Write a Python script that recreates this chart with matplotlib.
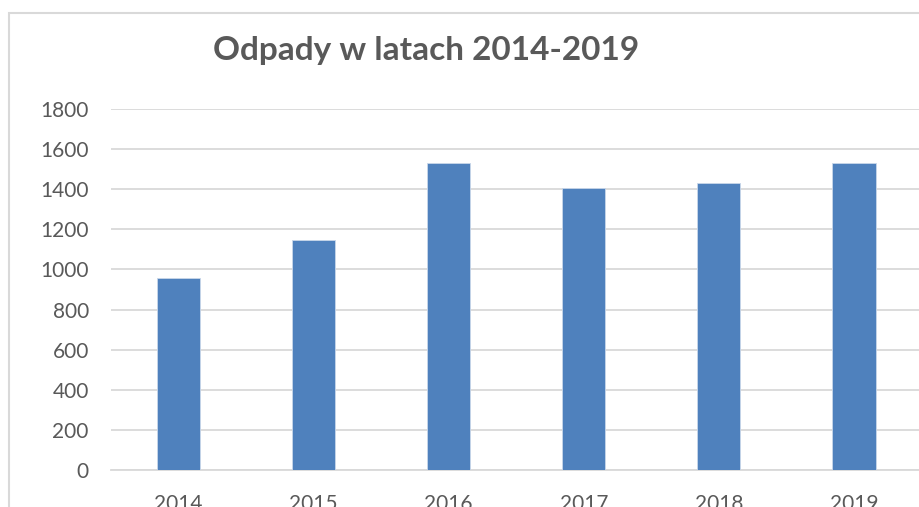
import matplotlib.pyplot as plt
from matplotlib.patches import Rectangle

years = ["2014", "2015", "2016", "2017", "2018", "2019"]
waste = [958, 1147, 1529, 1405, 1431, 1531]
yticks = [0, 200, 400, 600, 800, 1000, 1200, 1400, 1600, 1800]

W, H = 919, 507
fig = plt.figure(figsize=(W / 100, H / 100), dpi=100)
plt.rcParams['font.family'] = ['Lato', 'DejaVu Sans']

# outer chart frame (cropped at right and bottom like the screenshot)
fig.patches.append(Rectangle((8.5 / W, -0.1), 1.2, 1.1 - 12.5 / H,
                             transform=fig.transFigure, fill=False,
                             edgecolor='#d9d9d9', lw=1.5))

ax = fig.add_axes([111 / W, 37 / H, 810.5 / W, 361 / H])
x = range(len(years))
ax.bar(x, waste, width=0.32, color='#4f81bd', edgecolor='#c9d7ea', lw=0.6, zorder=3)
ax.set_xlim(-0.5, len(years) - 0.5)
ax.set_ylim(0, 1800)
ax.set_yticks(yticks)
ax.set_xticks(list(x))
ax.set_xticklabels(years)
ax.grid(axis='y', color='#d9d9d9', lw=1.3, zorder=0)
for s in ['top', 'right', 'left']:
    ax.spines[s].set_visible(False)
ax.spines['bottom'].set_color('#d9d9d9')
ax.spines['bottom'].set_linewidth(1.3)
ax.tick_params(axis='y', length=0, pad=16, labelsize=15, labelcolor='#595959')
ax.tick_params(axis='x', length=0, pad=17, labelsize=15, labelcolor='#595959')

fig.text(426 / W, 1 - 50 / H, "Odpady w latach 2014-2019", ha='center', va='center',
         fontsize=24, fontweight='bold', color='#595959')

fig.savefig("out.png", dpi=100)
